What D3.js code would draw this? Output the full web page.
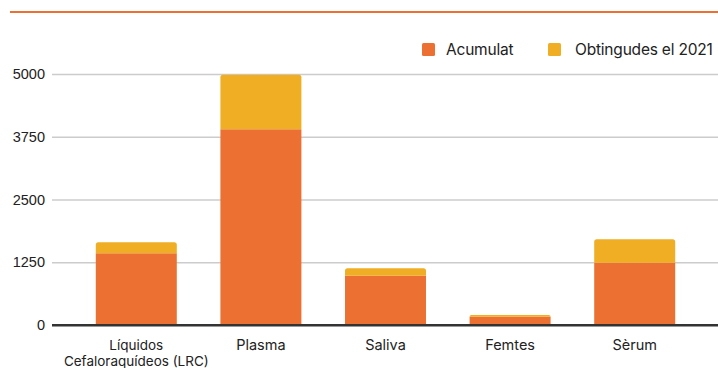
<!DOCTYPE html>
<html>
<head>
<meta charset="utf-8">
<script src="https://cdn.jsdelivr.net/npm/d3@7"></script>
<style>
  html, body { margin: 0; padding: 0; background: #fff; }
  svg { display: block; font-family: Inter, "Noto Sans", sans-serif; }
</style>
</head>
<body>
<svg id="chart" width="718" height="368"></svg>
<script>
// Sample types and counts
const categories = ["Líquidos\nCefaloraquídeos (LRC)", "Plasma", "Saliva", "Femtes", "Sèrum"];
const acumulat = [1430, 3900, 980, 165, 1240];
const obtingudes2021 = [220, 1085, 150, 35, 470];
const seriesNames = ["Acumulat", "Obtingudes el 2021"];
const yTicks = [0, 1250, 2500, 3750, 5000];

const colors = ["#ED7033", "#F0AE24"];

const svg = d3.select("#chart");
const W = 718;

// Top rule
svg.append("line")
  .attr("x1", 10).attr("x2", W).attr("y1", 12).attr("y2", 12)
  .attr("stroke", "#ED7033").attr("stroke-width", 2);

const x = d3.scaleBand().domain(categories).range([74, 697]).paddingInner(0.35).paddingOuter(0.175);
const y = d3.scaleLinear().domain([0, 5000]).range([325, 74]);

// Gridlines + tick labels
const yAxis = d3.axisLeft(y).tickValues(yTicks).tickSize(0).tickPadding(8)
  .tickFormat(d3.format("d"));
const gy = svg.append("g").attr("transform", "translate(52,0)").call(yAxis);
gy.select(".domain").remove();
gy.selectAll("text").attr("font-size", 14.5).attr("fill", "#222").attr("x", -7);
gy.selectAll(".tick").append("line")
  .attr("x1", 0).attr("x2", W - 52)
  .attr("stroke", d => d === 0 ? "#333" : "#cccccc")
  .attr("stroke-width", d => d === 0 ? 2 : 1.5);

// Stack data
const rows = categories.map((c, i) => ({ cat: c, a: acumulat[i], b: obtingudes2021[i] }));
const stack = d3.stack().keys(["a", "b"])(rows);

const bw = x.bandwidth();
const r = 2.5;
function roundTop(x0, y0, w, h) {
  const rr = Math.min(r, h);
  return `M${x0},${y0 + h}V${y0 + rr}Q${x0},${y0} ${x0 + rr},${y0}H${x0 + w - rr}Q${x0 + w},${y0} ${x0 + w},${y0 + rr}V${y0 + h}Z`;
}

const gBars = svg.append("g");
stack.forEach((layer, li) => {
  gBars.selectAll(null).data(layer).enter().append("path")
    .attr("fill", colors[li])
    .attr("d", d => {
      const x0 = x(d.data.cat), y0 = y(d[1]), h = y(d[0]) - y(d[1]);
      return li === stack.length - 1 ? roundTop(x0, y0, bw, h) : `M${x0},${y0}h${bw}v${h}h${-bw}Z`;
    });
});

// Redraw baseline on top of bars
svg.append("line").attr("x1", 52).attr("x2", W).attr("y1", y(0)).attr("y2", y(0))
  .attr("stroke", "#333").attr("stroke-width", 2);

// Category labels (multi-line labels as separate text lines)
const gx = svg.append("g");
categories.forEach(c => {
  const lines = c.split("\n");
  lines.forEach((line, i) => {
    gx.append("text")
      .attr("x", x(c) + bw / 2).attr("y", i === 0 ? 350 : 365.5)
      .attr("text-anchor", "middle").attr("font-size", lines.length > 1 ? 13.5 : 14.5)
      .attr("fill", "#222").text(line);
  });
});

// Legend
const legendPos = [{ sx: 422, tx: 446 }, { sx: 548, tx: 575 }];
seriesNames.forEach((n, i) => {
  svg.append("rect").attr("x", legendPos[i].sx).attr("y", 43).attr("width", 13).attr("height", 13)
    .attr("rx", 1.5).attr("fill", colors[i]);
  svg.append("text").attr("x", legendPos[i].tx).attr("y", 55)
    .attr("font-size", 15.5).attr("letter-spacing", -0.2).attr("fill", "#222").text(n);
});
</script>
</body>
</html>
